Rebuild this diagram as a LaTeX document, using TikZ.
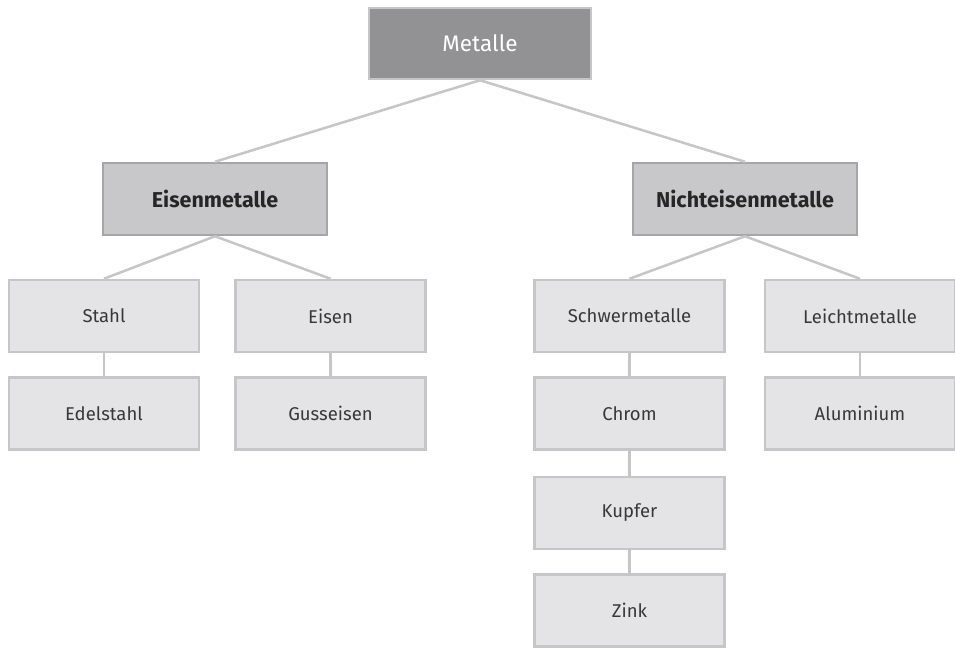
\documentclass[tikz,border=0pt]{standalone}
\usepackage{fontspec}
\setmainfont{Fira Sans}
\usetikzlibrary{positioning}
\definecolor{topgr}{HTML}{929295}
\definecolor{midgr}{HTML}{C8C8CA}
\definecolor{lowgr}{HTML}{E4E4E6}
\definecolor{edge}{HTML}{C6C6C8}
\definecolor{midedge}{HTML}{A6A6A8}

\begin{document}
\begin{tikzpicture}[x=1pt, y=-1pt,
  box/.style={draw=edge, line width=2.5pt, fill=lowgr, minimum width=190pt,
              minimum height=72pt, inner sep=2pt, font=\fontsize{18.5}{22}\selectfont, text=black!78},
  grp/.style={box, draw=midedge, fill=midgr, minimum width=224pt,
              font=\fontsize{21.5}{25}\selectfont\bfseries, text=black!85},
  root/.style={box, draw=edge, fill=topgr, minimum width=222pt, minimum height=71pt,
               font=\fontsize{22.5}{26}\selectfont, text=white},
  link/.style={draw=edge, line width=2.5pt}
]
\useasboundingbox[fill=white] (0,0) rectangle (955,648);

% top level
\node[root] (metalle) at (480,43.5) {Metalle};

% second level
\node[grp] (eisen) at (215,199) {Eisenmetalle};
\node[grp] (ne) at (745,199) {Nichteisenmetalle};

% third and fourth level
\node[box] (stahl) at (104,316) {Stahl};
\node[box] (eis) at (330.5,316) {Eisen};
\node[box] (schwer) at (629.5,316) {Schwermetalle};
\node[box] (leicht) at (860,316) {Leichtmetalle};
\node[box] (edel) at (104,413.5) {Edelstahl};
\node[box] (guss) at (330.5,413.5) {Gusseisen};
\node[box] (chrom) at (629.5,413.5) {Chrom};
\node[box] (alu) at (860,413.5) {Aluminium};
\node[box] (kupfer) at (629.5,513) {Kupfer};
\node[box] (zink) at (629.5,610.5) {Zink};

% connectors
\draw[link] (metalle.south) -- (eisen.north);
\draw[link] (metalle.south) -- (ne.north);
\draw[link] (eisen.south) -- (stahl.north);
\draw[link] (eisen.south) -- (eis.north);
\draw[link] (ne.south) -- (schwer.north);
\draw[link] (ne.south) -- (leicht.north);
\draw[link] (stahl) -- (edel);
\draw[link] (eis) -- (guss);
\draw[link] (schwer) -- (chrom);
\draw[link] (chrom) -- (kupfer);
\draw[link] (kupfer) -- (zink);
\draw[link] (leicht) -- (alu);
\end{tikzpicture}
\end{document}
